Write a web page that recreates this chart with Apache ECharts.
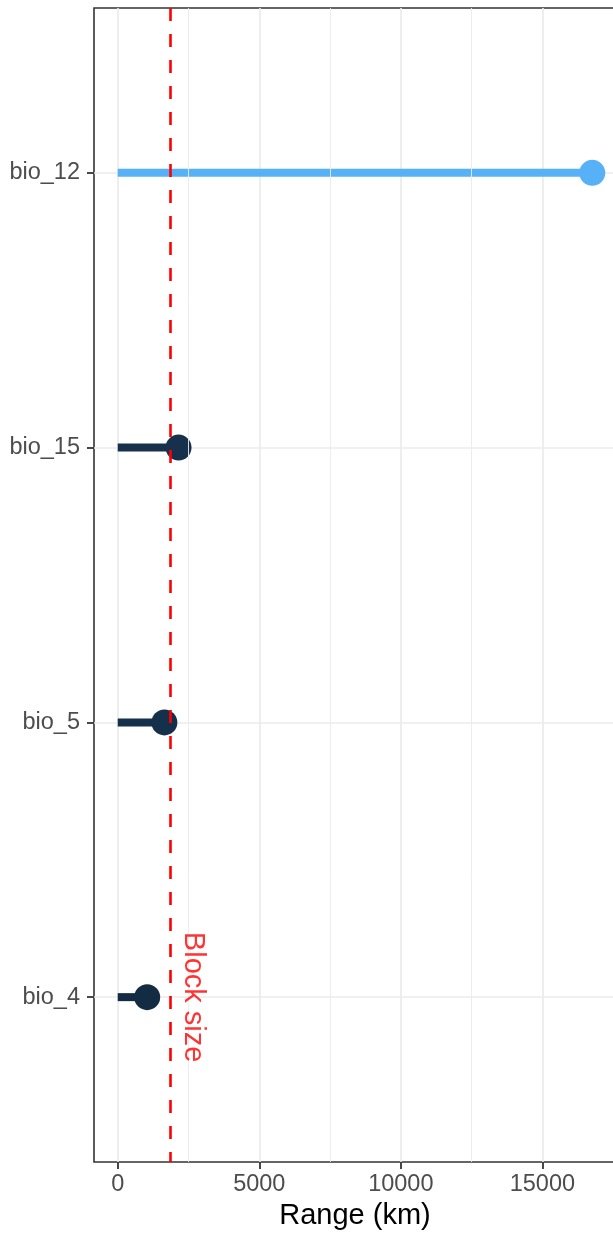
<!DOCTYPE html>
<html>
<head>
<meta charset="utf-8">
<script src="https://cdn.jsdelivr.net/npm/echarts@6/dist/echarts.min.js"></script>
<style>
html,body{margin:0;padding:0;background:#fff;}
#chart{width:613px;height:1234px;}
</style>
</head>
<body>
<div id="chart"></div>
<script>
// categories listed top to bottom
const categories = ['bio_12', 'bio_15', 'bio_5', 'bio_4'];
const ranges = [16762, 2148, 1648, 1040];
const pointColors = ['#56B1F7', '#17314C', '#15304A', '#132B43'];
const blockSize = 1872;
const majorTicks = [0, 5000, 10000, 15000];
const minorTicks = [2500, 7500, 12500];

const FONT = '"Liberation Sans", Arial, Helvetica, sans-serif';
const maxVal = Math.max(...ranges);
const span = maxVal - 0;
const xMin = 0 - 0.05 * span;
const xMax = maxVal + 0.05 * span;
const catPos = categories.map((c, i) => i + 1);

const chart = echarts.init(document.getElementById('chart'), null, {renderer: 'canvas'});

const option = {
  animation: false,
  backgroundColor: '#ffffff',
  grid: {
    left: 94, top: 8, width: 522, height: 1154,
    show: true, borderColor: '#333333', borderWidth: 1.6, backgroundColor: 'transparent',
    containLabel: false,
    outerBoundsMode: 'none'
  },
  xAxis: {
    type: 'value',
    min: xMin, max: xMax,
    name: 'Range (km)',
    nameLocation: 'middle',
    nameGap: 38,
    nameTextStyle: {fontFamily: FONT, fontSize: 29, color: '#000000'},
    axisLine: {show: false, onZero: false},
    axisTick: {show: true, length: 7, lineStyle: {color: '#333333', width: 1.8}, customValues: majorTicks},
    axisLabel: {
      show: true, margin: 11, fontFamily: FONT, fontSize: 23.5, color: '#4D4D4D',
      customValues: majorTicks, formatter: v => String(v)
    },
    splitLine: {show: true, lineStyle: {color: '#EBEBEB', width: 1.7}}
  },
  yAxis: {
    type: 'value',
    inverse: true,
    min: 0.4, max: categories.length + 0.6,
    axisLine: {show: false, onZero: false},
    axisTick: {show: true, length: 7, lineStyle: {color: '#333333', width: 1.8}, customValues: catPos},
    axisLabel: {
      show: true, margin: 14, fontFamily: FONT, fontSize: 23.5, color: '#4D4D4D',
      customValues: catPos, formatter: v => categories[Math.round(v) - 1] || ''
    },
    splitLine: {show: true, lineStyle: {color: '#EBEBEB', width: 1.7}}
  },
  series: [
    {
      type: 'scatter', name: 'minor', data: [], silent: true, z: 1,
      markLine: {
        silent: true, symbol: ['none', 'none'], label: {show: false},
        lineStyle: {color: '#EBEBEB', width: 0.9, type: 'solid'},
        emphasis: {disabled: true},
        data: minorTicks.map(v => ({xAxis: v}))
      }
    },
    {
      type: 'custom', name: 'segments', z: 3,
      data: ranges.map((v, i) => [v, catPos[i]]),
      renderItem: function (params, api) {
        const x = api.value(0), y = api.value(1);
        const p0 = api.coord([0, y]);
        const p1 = api.coord([x, y]);
        return {
          type: 'line',
          shape: {x1: p0[0], y1: p0[1], x2: p1[0], y2: p1[1]},
          style: {stroke: pointColors[params.dataIndex], lineWidth: 8, lineCap: 'butt'}
        };
      }
    },
    {
      type: 'scatter', name: 'points', z: 4,
      symbol: 'circle', symbolSize: 26,
      data: ranges.map((v, i) => ({value: [v, catPos[i]], itemStyle: {color: pointColors[i], opacity: 1}}))
    },
    {
      type: 'scatter', name: 'block', z: 6, symbolSize: 0,
      data: [[blockSize, catPos[catPos.length - 1]]],
      label: {
        show: true, position: 'inside', offset: [0, -22], rotate: -90,
        formatter: 'Block size', fontFamily: FONT, fontSize: 29, color: '#FF0000'
      },
      markLine: {
        silent: true, symbol: ['none', 'none'], label: {show: false},
        lineStyle: {color: '#FF0000', width: 2.6, type: [13, 13]},
        emphasis: {disabled: true},
        data: [{xAxis: blockSize}]
      }
    }
  ]
};
chart.setOption(option);
</script>
</body>
</html>
